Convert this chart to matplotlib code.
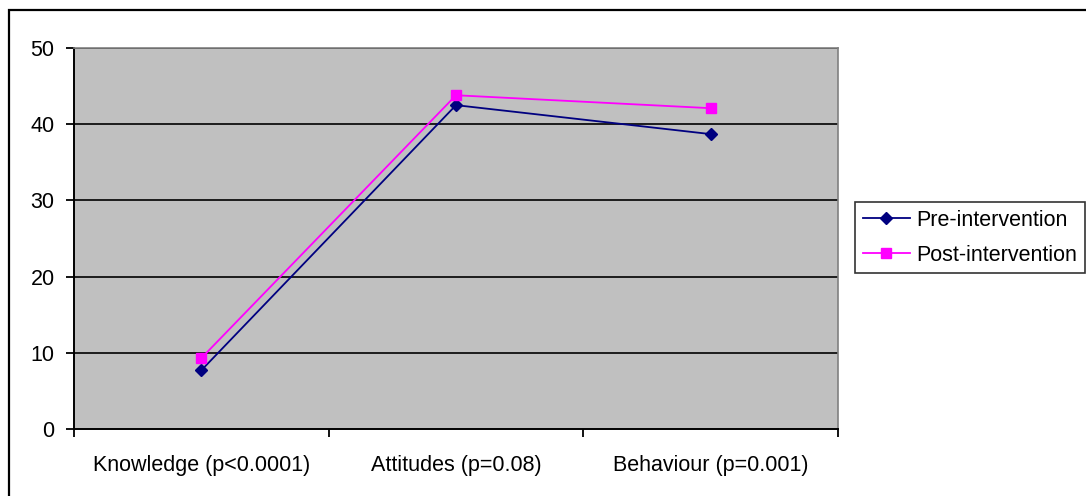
import matplotlib
matplotlib.use("Agg")
import matplotlib.pyplot as plt
from matplotlib.patches import Rectangle

categories = ["Knowledge (p<0.0001)", "Attitudes (p=0.08)", "Behaviour (p=0.001)"]
pre_values = [7.7, 42.5, 38.7]
post_values = [9.3, 43.8, 42.1]
series_names = ["Pre-intervention", "Post-intervention"]
y_ticks = [0, 10, 20, 30, 40, 50]

plt.rcParams["font.family"] = ["Liberation Sans", "DejaVu Sans"]
FS = 15.5

W, H = 1086, 496
fig = plt.figure(figsize=(W / 100, H / 100), dpi=100)
fig.patch.set_facecolor("white")

# chart frame (only the top and left edges fall inside the canvas)
fig.add_artist(Rectangle((9 / W, -0.05), 1.2, (H - 10) / H + 0.05,
                         transform=fig.transFigure, fill=False,
                         edgecolor="black", linewidth=1.6))

left, right, top, bottom = 74, 838, 48, 429
ax = fig.add_axes([left / W, 1 - bottom / H, (right - left) / W, (bottom - top) / H])
ax.set_facecolor("#C0C0C0")

x = list(range(len(categories)))
ax.set_xlim(-0.5, len(categories) - 0.5)
ax.set_ylim(0, 50)

for yv in y_ticks[1:]:
    ax.axhline(yv, color="black", linewidth=1.2, zorder=1)

ax.plot(x, pre_values, color="#000080", linewidth=1.3, marker="D",
        markersize=6.5, markerfacecolor="#000080", markeredgecolor="#000080",
        label=series_names[0], zorder=3)
ax.plot(x, post_values, color="#FF00FF", linewidth=1.3, marker="s",
        markersize=7.5, markerfacecolor="#FF00FF", markeredgecolor="#FF00FF",
        label=series_names[1], zorder=3)

ax.set_yticks(y_ticks)
ax.set_yticklabels([str(v) for v in y_ticks], fontsize=FS)
ax.set_xticks([i - 0.5 for i in range(len(categories) + 1)])
ax.set_xticklabels([])
ax.set_xticks(x, minor=True)
ax.set_xticklabels(categories, minor=True, fontsize=FS)
ax.tick_params(axis="x", which="minor", length=0, pad=19)
ax.tick_params(axis="x", which="major", length=6, width=1.3, direction="out", color="black")
ax.tick_params(axis="y", length=6, width=1.3, direction="out", pad=8, color="black")

for side in ("left", "bottom"):
    ax.spines[side].set_color("black")
    ax.spines[side].set_linewidth(1.4)
for side in ("top", "right"):
    ax.spines[side].set_color("#808080")
    ax.spines[side].set_linewidth(1.2)

leg = fig.legend(loc="upper left", bbox_to_anchor=(855 / W, 1 - 202 / H),
                 bbox_transform=fig.transFigure, frameon=True, fancybox=False,
                 fontsize=FS, handlelength=2.2, handletextpad=0.3,
                 borderpad=0.35, labelspacing=0.65, borderaxespad=0.0)
leg.get_frame().set_edgecolor("black")
leg.get_frame().set_linewidth(1.2)

fig.savefig("out.png", dpi=100, facecolor="white")
